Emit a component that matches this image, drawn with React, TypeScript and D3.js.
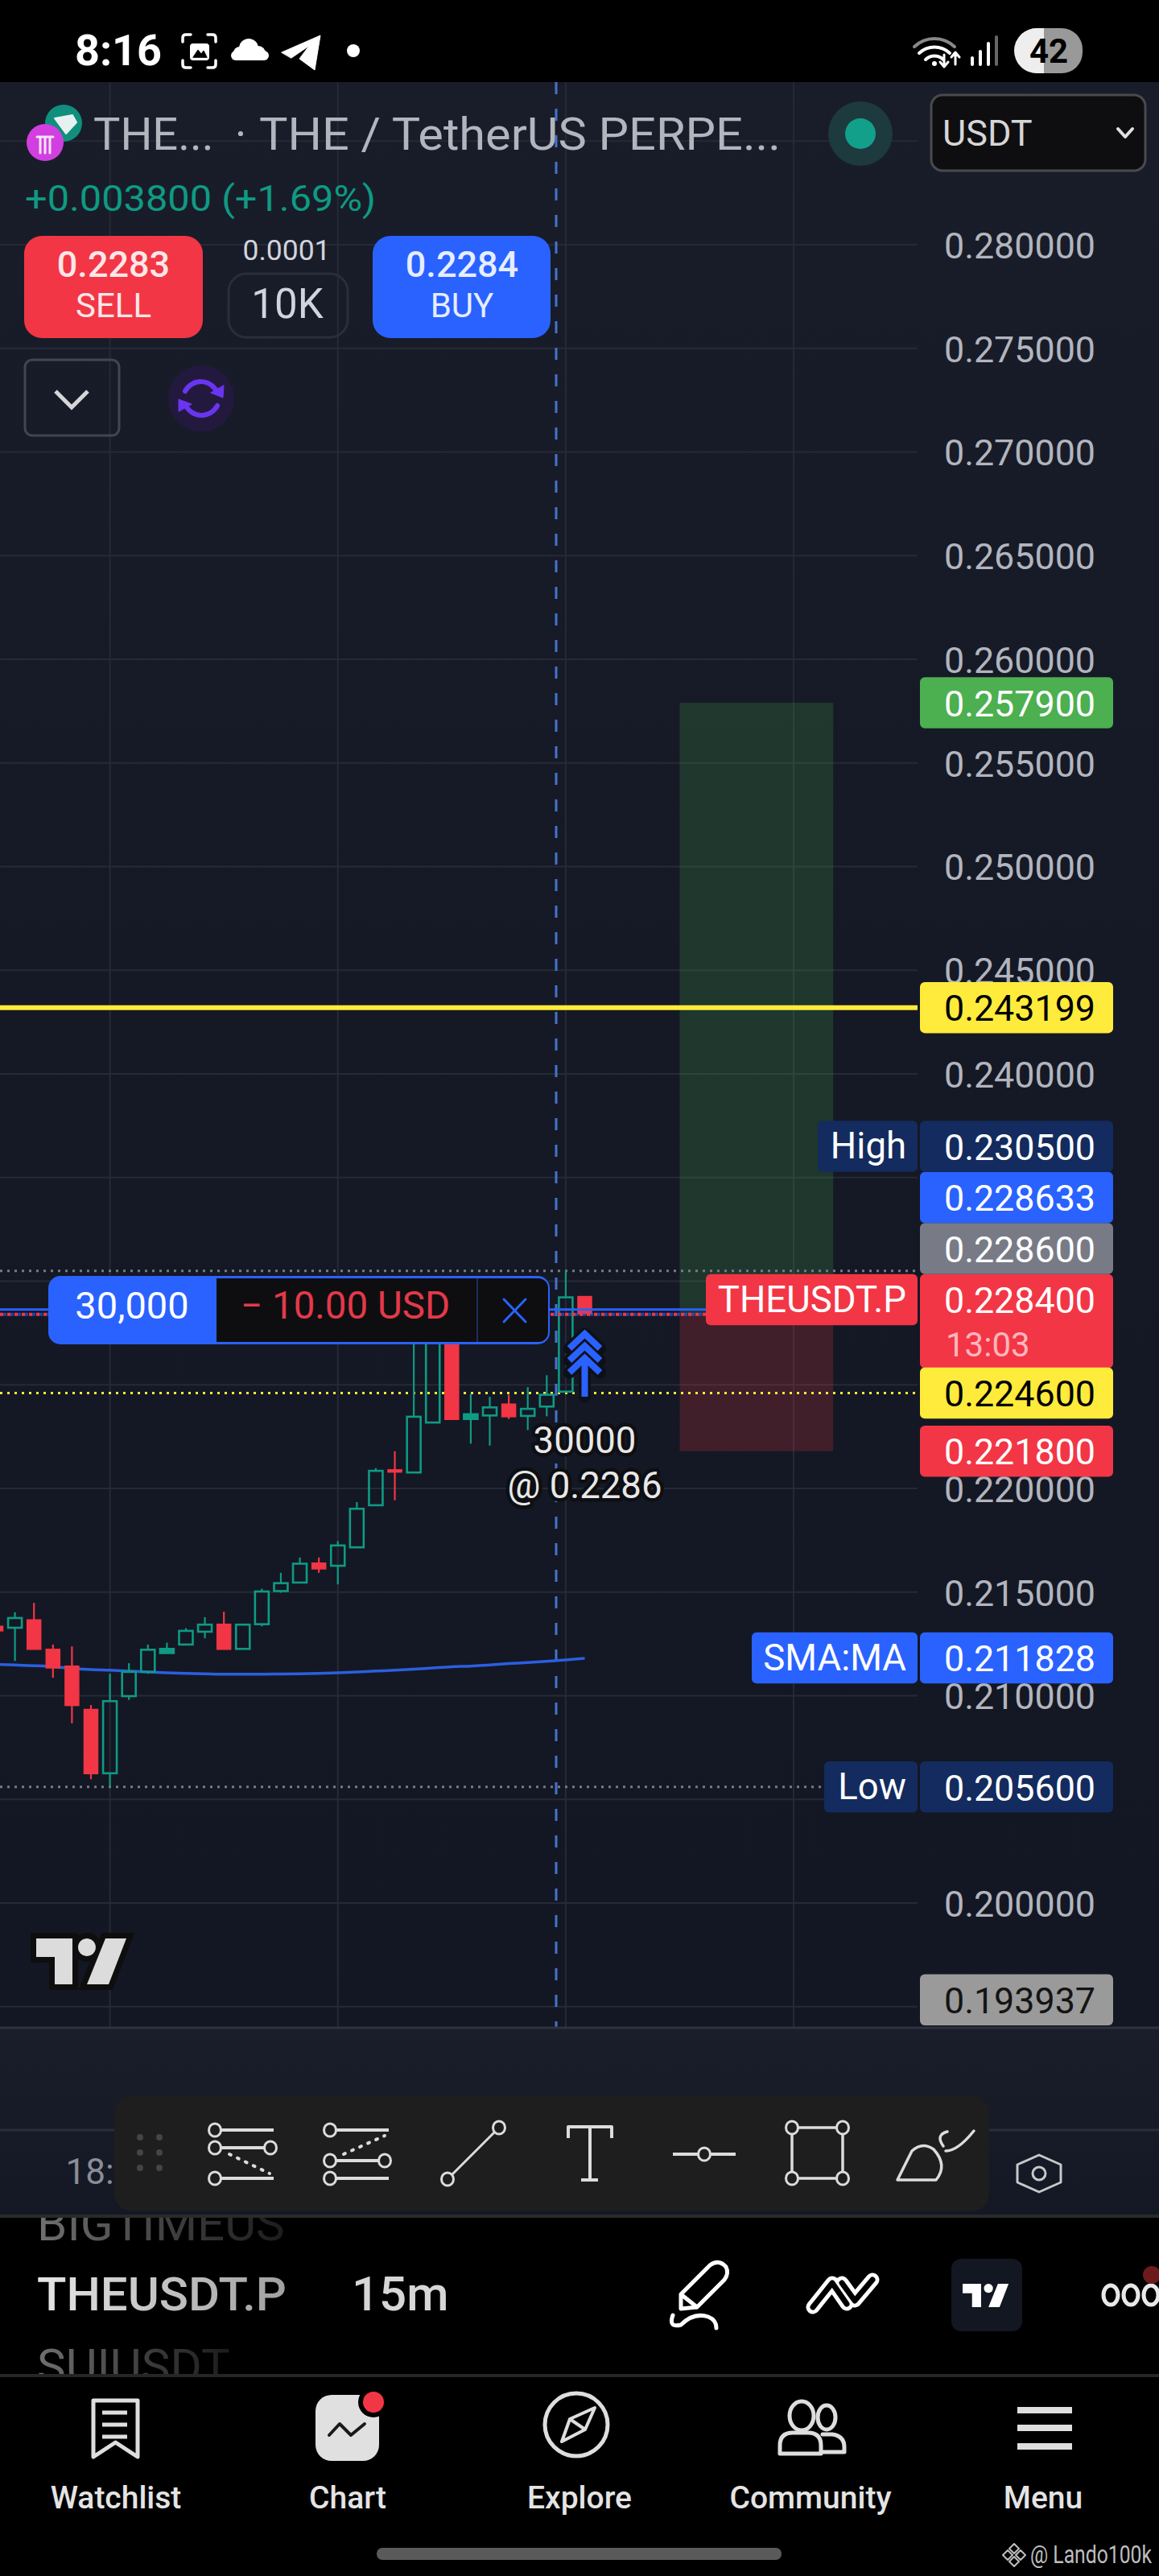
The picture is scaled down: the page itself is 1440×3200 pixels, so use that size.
import React, { useRef, useEffect } from "react";
import * as d3 from "d3";

// candle values (15m THEUSDT.P)
const candleIndex = d3.range(0, 32);
const opens = [0.21335, 0.21328, 0.21366, 0.21224, 0.21143, 0.20934, 0.20626, 0.20998, 0.21115, 0.21206, 0.21247, 0.21309, 0.21345, 0.21226, 0.21345, 0.21505, 0.21546, 0.2164, 0.21627, 0.21716, 0.21919, 0.2209, 0.22077, 0.22318, 0.2275, 0.22335, 0.22352, 0.22407, 0.2235, 0.22395, 0.22467, 0.22926];
const highs = [0.21335, 0.21403, 0.21448, 0.21247, 0.21238, 0.20955, 0.21106, 0.21157, 0.21247, 0.21256, 0.21326, 0.21379, 0.21405, 0.21343, 0.21516, 0.21593, 0.21667, 0.21667, 0.21746, 0.21934, 0.22098, 0.22179, 0.22791, 0.22979, 0.2275, 0.22456, 0.22442, 0.22452, 0.22489, 0.22546, 0.2305, 0.22926];
const lows = [0.21313, 0.21168, 0.21224, 0.21087, 0.20867, 0.20597, 0.2056, 0.2098, 0.21106, 0.21206, 0.21247, 0.21277, 0.21224, 0.21226, 0.21335, 0.21497, 0.21546, 0.21593, 0.21537, 0.21716, 0.21919, 0.21943, 0.22077, 0.22318, 0.22333, 0.22216, 0.22207, 0.22335, 0.22282, 0.22348, 0.22467, 0.22843];
const closes = [0.21313, 0.21375, 0.21224, 0.21134, 0.20953, 0.20624, 0.20974, 0.21115, 0.21222, 0.21226, 0.21313, 0.21343, 0.21224, 0.21343, 0.21503, 0.21543, 0.21637, 0.21612, 0.21725, 0.21902, 0.22085, 0.22079, 0.22346, 0.22828, 0.22333, 0.22358, 0.22391, 0.22346, 0.22384, 0.22452, 0.22922, 0.22843];
const smaValues = [0.21151, 0.21149, 0.21145, 0.2114, 0.21132, 0.21126, 0.21123, 0.21119, 0.21115, 0.21111, 0.21108, 0.21106, 0.21104, 0.21104, 0.21104, 0.21105, 0.21106, 0.21108, 0.21111, 0.21115, 0.21119, 0.21123, 0.21128, 0.21134, 0.2114, 0.21143, 0.21149, 0.21155, 0.2116, 0.21166, 0.21173, 0.21181];

const gridPrices = [0.195, 0.2, 0.205, 0.21, 0.215, 0.22, 0.225, 0.23, 0.235, 0.24, 0.245, 0.25, 0.255, 0.26, 0.265, 0.27, 0.275, 0.28, 0.285];
// ticks not fully hidden behind the price labels
const priceTicks = [0.2, 0.21, 0.215, 0.22, 0.24, 0.245, 0.25, 0.255, 0.26, 0.265, 0.27, 0.275, 0.28];
const timeGrid = [6, 18, 30, 42];
const timeLabels = ["18:"];

const entryPrice = 0.2284;
const targetPrice = 0.2579;
const stopPrice = 0.2218;
const hLinePrice = 0.243199;
const highPrice = 0.2305;
const lowPrice = 0.2056;
const yellowPrice = 0.2246;
const posLinePrice = 0.228633;
const smaLast = 0.211828;
const lastVisible = 0.193937;
const riskBoxIdx = [36, 44];
const crosshairX = 691;

const navLabels = ["Watchlist", "Chart", "Explore", "Community", "Menu"];
const navCenters = [144, 432, 720, 1007, 1296];

const UP = "#0f9a83";
const DOWN = "#f23645";
const BLUE = "#2962ff";
const NAVY = "#132b5e";
const YELLOW = "#ffeb3b";
const AXIS_TXT = "#b2b5be";
const PANE_R = 1140;
const FONT = "Roboto, sans-serif";

export default function App() {
  const svgRef = useRef<SVGSVGElement>(null);

  useEffect(() => {
    const svg = d3.select(svgRef.current);
    svg.selectAll("*").remove();

    const x = d3.scaleLinear().domain([0, 31]).range([-5, 726.5]);
    const y = d3.scaleLinear().domain([0.2, 0.28]).range([2364, 304]);

    const txt = (s: string, tx: number, ty: number, size: number, fill: string, anchor = "start", weight = 400) =>
      svg.append("text").attr("x", tx).attr("y", ty).attr("font-size", size).attr("fill", fill)
        .attr("text-anchor", anchor).attr("font-weight", weight).attr("font-family", FONT).text(s);
    const path = (d: string, stroke: string, sw = 3, fill = "none") =>
      svg.append("path").attr("d", d).attr("stroke", stroke).attr("stroke-width", sw).attr("fill", fill)
        .attr("stroke-linecap", "round").attr("stroke-linejoin", "round");
    const rect = (rx0: number, ry0: number, w: number, h: number, fill: string, r = 0) =>
      svg.append("rect").attr("x", rx0).attr("y", ry0).attr("width", w).attr("height", h).attr("fill", fill).attr("rx", r);
    const circ = (cx: number, cy: number, r: number, fill: string, stroke = "none", sw = 0) =>
      svg.append("circle").attr("cx", cx).attr("cy", cy).attr("r", r).attr("fill", fill).attr("stroke", stroke).attr("stroke-width", sw);

    // gradients and clips
    const defs = svg.append("defs");
    const grad = (id: string, stops: [number, string][], x2 = 0, y2 = 1) => {
      const g = defs.append("linearGradient").attr("id", id).attr("x1", 0).attr("y1", 0).attr("x2", x2).attr("y2", y2);
      stops.forEach(([o, c]) => g.append("stop").attr("offset", o).attr("stop-color", c));
    };
    grad("paneBg", [[0, "#191d2a"], [0.45, "#151925"], [1, "#131723"]]);
    grad("timeBg", [[0, "#1a1e2a"], [1, "#131824"]]);
    grad("fadeTxt", [[0, "#707070"], [0.62, "#383838"], [1, "#1c1c1c"]], 1, 0);
    grad("symTxt", [[0, "#e6e6e6"], [1, "#a0a0a0"]], 1, 0);
    defs.append("clipPath").attr("id", "pane").append("rect").attr("width", PANE_R).attr("height", 2417).attr("y", 102);
    defs.append("clipPath").attr("id", "rowClip").append("rect").attr("y", 2755).attr("width", 366).attr("height", 194);

    // page
    rect(0, 0, 1440, 3200, "#000");
    rect(0, 102, 1440, 2417, "url(#paneBg)");
    rect(0, 2519, 1440, 233, "url(#timeBg)");

    // grid
    const chart = svg.append("g").attr("clip-path", "url(#pane)");
    chart.selectAll(".hgrid").data(gridPrices).join("line")
      .attr("x1", 0).attr("x2", PANE_R).attr("y1", (d) => y(d)).attr("y2", (d) => y(d))
      .attr("stroke", "#262a36").attr("stroke-width", 2);
    chart.selectAll(".vgrid").data(timeGrid).join("line")
      .attr("x1", (d) => x(d)).attr("x2", (d) => x(d)).attr("y1", 102).attr("y2", 2519)
      .attr("stroke", "#262a36").attr("stroke-width", 2);

    // long position box
    chart.append("rect").attr("x", x(riskBoxIdx[0])).attr("width", x(riskBoxIdx[1]) - x(riskBoxIdx[0]) + 2)
      .attr("y", y(targetPrice)).attr("height", y(entryPrice) - y(targetPrice)).attr("fill", "#4caf50").attr("opacity", 0.2);
    chart.append("rect").attr("x", x(riskBoxIdx[0])).attr("width", x(riskBoxIdx[1]) - x(riskBoxIdx[0]) + 2)
      .attr("y", y(entryPrice)).attr("height", y(stopPrice) - y(entryPrice)).attr("fill", DOWN).attr("opacity", 0.2);

    // level lines
    const level = (p: number, color: string, sw: number, dash?: string) =>
      chart.append("line").attr("x1", 0).attr("x2", PANE_R).attr("y1", y(p)).attr("y2", y(p))
        .attr("stroke", color).attr("stroke-width", sw).attr("stroke-dasharray", dash || null);
    level(hLinePrice, YELLOW, 6);
    level(highPrice, "#787b86", 3, "3 6");
    level(lowPrice, "#787b86", 3, "3 6");
    level(yellowPrice, YELLOW, 3, "3 6");

    // crosshair
    chart.append("line").attr("x1", crosshairX).attr("x2", crosshairX).attr("y1", 102).attr("y2", 2519)
      .attr("stroke", "#4673c9").attr("stroke-width", 3).attr("stroke-dasharray", "15 18");

    // SMA
    const smaLine = d3.line<number>().x((d) => x(d)).y((d) => y(smaValues[d])).curve(d3.curveMonotoneX);
    chart.append("path").attr("d", smaLine(candleIndex)).attr("fill", "none").attr("stroke", "#2a5fe0").attr("stroke-width", 3.5);

    // candles
    const bw = 17;
    const g = chart.append("g");
    candleIndex.forEach((i) => {
      const up = closes[i] >= opens[i];
      const color = up ? UP : DOWN;
      const top = y(Math.max(opens[i], closes[i]));
      const bot = y(Math.min(opens[i], closes[i]));
      const cx = x(i);
      g.append("line").attr("x1", cx).attr("x2", cx).attr("y1", y(highs[i])).attr("y2", top).attr("stroke", color).attr("stroke-width", 2.2);
      g.append("line").attr("x1", cx).attr("x2", cx).attr("y1", bot).attr("y2", y(lows[i])).attr("stroke", color).attr("stroke-width", 2.2);
      g.append("rect").attr("x", cx - bw / 2).attr("width", bw).attr("y", top).attr("height", bot - top)
        .attr("fill", up ? (bot - top < 8 ? color : "none") : color)
        .attr("stroke", color).attr("stroke-width", up ? 2.6 : 1.5);
    });

    // position line
    level(posLinePrice, "#2962ff", 3);
    level(entryPrice, DOWN, 4, "4 5");
    chart.append("line").attr("x1", 4).attr("x2", PANE_R).attr("y1", y(entryPrice)).attr("y2", y(entryPrice))
      .attr("stroke", BLUE).attr("stroke-width", 4).attr("stroke-dasharray", "4 5").attr("opacity", 0.6);

    // trade marker
    const ax = x(31);
    const ay = [1655, 1670, 1685];
    const chevrons = ay.map((t) => `M${ax - 19} ${t + 20} L${ax} ${t + 2} L${ax + 19} ${t + 20}`).join(" ");
    const shaft = `M${ax} 1690 L${ax} 1735`;
    path(chevrons + " " + shaft, "#0e1018", 15);
    path(chevrons, BLUE, 8).attr("stroke-linecap", "butt").attr("stroke-linejoin", "miter");
    path(shaft, BLUE, 8).attr("stroke-linecap", "butt");
    const halo = (s: string, tx: number, ty: number) =>
      txt(s, tx, ty, 45.5, "#e8e8e8", "middle").attr("stroke", "#0e0f13").attr("stroke-width", 9)
        .attr("paint-order", "stroke").attr("stroke-linejoin", "round");
    halo("30000", ax, 1805);
    halo("@ 0.2286", ax, 1861);

    // price axis
    const axis = d3.axisRight(y).tickValues(priceTicks).tickFormat(d3.format(".6f")).tickSize(0).tickPadding(0);
    const axG = svg.append("g").attr("transform", "translate(1361,2)").call(axis);
    axG.select(".domain").remove();
    axG.selectAll("text").attr("text-anchor", "end").attr("fill", AXIS_TXT).attr("font-size", 44.8).attr("font-family", FONT);

    // price labels
    const LH = 63.5;
    const plabel = (p: string, top: number, fill: string, color = "#fff", h = LH) => {
      rect(1143, top, 240, h, fill, 6);
      txt(p, 1361, top + 48.5, 44.8, color, "end");
    };
    const sideLabel = (s: string, left: number, top: number, fill: string) => {
      rect(left, top, PANE_R - left, LH, fill, 6);
      txt(s, PANE_R - 14, top + 47, 45.5, "#fff", "end");
    };
    const curTop = y(entryPrice) - 50;
    plabel("0.228400", curTop, DOWN, "#fff", 117);
    txt("13:03", 1175, curTop + 102, 42, "#ffb6bd");
    sideLabel("THEUSDT.P", 877, curTop, DOWN);
    plabel("0.228600", curTop - LH, "#787b86");
    plabel("0.228633", curTop - 2 * LH, BLUE);
    plabel("0.230500", curTop - 3 * LH, NAVY);
    sideLabel("High", 1016, curTop - 3 * LH, NAVY);
    plabel("0.224600", y(yellowPrice) - LH / 2, YELLOW, "#000");
    plabel("0.221800", y(stopPrice) - LH / 2, DOWN);
    plabel("0.257900", y(targetPrice) - LH / 2, "#4caf50");
    plabel("0.243199", y(hLinePrice) - LH / 2, YELLOW, "#000");
    plabel("0.211828", y(smaLast) - LH / 2, BLUE);
    sideLabel("SMA:MA", 934, y(smaLast) - LH / 2, BLUE);
    plabel("0.205600", y(lowPrice) - LH / 2, NAVY);
    sideLabel("Low", 1024, y(lowPrice) - LH / 2, NAVY);
    plabel(lastVisible.toFixed(6), 2516 - LH, "#9a9a9a", "#141414");

    // order panel
    rect(60, 1585, 623, 85, BLUE, 15);
    rect(269, 1588, 412, 79, "#0e0e10", 12);
    rect(269, 1588, 30, 79, "#0e0e10");
    svg.append("line").attr("x1", 593).attr("x2", 593).attr("y1", 1588).attr("y2", 1667).attr("stroke", "#1b2f63").attr("stroke-width", 2);
    txt("30,000", 164, 1638, 47, "#fff", "middle");
    txt("− 10.00 USD", 299, 1638, 47.5, "#e4394a");
    path("M626 1614 L653 1642 M653 1614 L626 1642", BLUE, 3);

    // header
    circ(79, 153, 23, "#0f8f7c");
    path("M68 147 L90 143 L95 152 L82 166 Z", "#e6f2f0", 2, "#e6f2f0");
    circ(56, 177, 23, "#d13fe0");
    path("M46 170 H66 M50 170 V190 M56 170 V190 M62 170 V190", "#f5e3f8", 3);
    txt("THE...", 116, 186, 56, AXIS_TXT);
    txt("·", 299, 186, 56, AXIS_TXT, "middle");
    txt("THE / TetherUS PERPE...", 322, 186, 56, AXIS_TXT).attr("textLength", 648).attr("lengthAdjust", "spacingAndGlyphs");
    circ(1069, 166, 40, "#1d3a3e");
    circ(1069, 166, 19, "#13a08a");
    rect(1157, 118, 266, 94, "#0e0e10", 14).attr("stroke", "#4a4a4c").attr("stroke-width", 3);
    txt("USDT", 1171, 181, 45, "#d6d6d6");
    path("M1389 160 L1398 170 L1407 160", "#e0e0e0", 4);
    txt("+0.003800 (+1.69%)", 31, 262, 45, "#0f9a83").attr("textLength", 436).attr("lengthAdjust", "spacingAndGlyphs");

    rect(30, 293, 222, 127, DOWN, 22);
    txt("0.2283", 141, 344, 45, "#fbe7e9", "middle", 500);
    txt("SELL", 141, 394, 42, "#fbe7e9", "middle");
    rect(463, 293, 221, 127, BLUE, 22);
    txt("0.2284", 574, 344, 45, "#e6edff", "middle", 500);
    txt("BUY", 574, 394, 42, "#e6edff", "middle");
    txt("0.0001", 356, 323, 35.5, "#d1d4dc", "middle");
    rect(284, 340, 148, 79, "none", 22).attr("stroke", "#2a2e39").attr("stroke-width", 3);
    txt("10K", 357, 395, 51, "#d1d4dc", "middle");
    rect(31, 447, 117, 94, "none", 9).attr("stroke", "#434651").attr("stroke-width", 3);
    path("M69 486 L89 506 L109 486", "#d6d6d6", 5).attr("stroke-linecap", "butt").attr("stroke-linejoin", "miter");
    circ(250, 495, 41, "#23193f");
    path("M230 486 A22 22 0 0 1 270 488 M270 504 A22 22 0 0 1 230 502", "#6a35f0", 6);
    path("M262 488 L277 494 L278 479 Z M238 502 L222 496 L222 511 Z", "#6a35f0", 1, "#6a35f0");

    // status bar
    txt("8:16", 147, 81, 54, "#fff", "middle", 700);
    path("M227 52 V47 Q227 43 231 43 H237 M258 43 H264 Q268 43 268 47 V52 M268 75 V80 Q268 84 264 84 H258 M237 84 H231 Q227 84 227 80 V75", "#fff", 3.5);
    rect(236, 54, 24, 21, "#fff", 4);
    path("M240 71 L246 62 L250 67 L253 63 L257 71 Z", "#000", 1, "#000");
    rect(287, 63, 47, 12, "#fff", 6);
    circ(309, 60, 12, "#fff");
    circ(321, 66, 9, "#fff");
    circ(298, 66, 8, "#fff");
    path("M350 65 L398 44 L391 87 L372 73 L384 57 L362 72 Z", "#fff", 1, "#fff");
    circ(439, 63, 8, "#fff");
    path("M1136 58 A36 36 0 0 1 1186 58", "#888", 4);
    path("M1142 66 A28 28 0 0 1 1180 66", "#fff", 4);
    path("M1150 74 A16 16 0 0 1 1172 74", "#fff", 4);
    circ(1161, 79, 3, "#fff");
    path("M1173 68 V82 M1168 77 L1173 83 L1178 77 M1187 80 V66 M1182 71 L1187 65 L1192 71", "#fff", 3);
    [[1208, 12], [1218, 20], [1228, 30], [1238, 38]].forEach(([bx, bh], i) =>
      rect(bx - 2, 82 - bh, 4, bh, i === 3 ? "#666" : "#fff", 2));
    rect(1262, 35, 83, 56, "#999", 26);
    svg.append("path").attr("d", "M1288 35 H1297 V91 H1288 A28 28 0 0 1 1288 35 Z").attr("fill", "#eee");
    txt("42", 1303, 78, 42, "#000", "middle", 700);

    // tv watermark
    const tvLogo = (sx: number, dx: number, dy: number, fill: string, stroke?: string) => {
      const gl = svg.append("g").attr("transform", `translate(${dx},${dy}) scale(${sx})`);
      const logo = gl.append("path").attr("d", "M0 0 H45 V57 H23 V23 H0 Z M86 0 H112 L90 57 H63 Z M63 0 A11 11 0 1 1 62.9 0 Z")
        .attr("fill", fill);
      if (stroke) logo.attr("stroke", stroke).attr("stroke-width", 14).attr("paint-order", "stroke").attr("stroke-linejoin", "miter");
    };
    tvLogo(1, 45, 2408, "#dcdcdc", "#0e0e0e");

    // time pane
    svg.append("line").attr("x1", 0).attr("x2", 1440).attr("y1", 2519).attr("y2", 2519).attr("stroke", "#2f3340").attr("stroke-width", 3);
    svg.append("line").attr("x1", 0).attr("x2", 1440).attr("y1", 2646).attr("y2", 2646).attr("stroke", "#2a2e39").attr("stroke-width", 3);
    timeLabels.forEach((t) => txt(t, x(timeGrid[0]) - 55, 2713, 44, "#8a8d96"));
    path("M1291 2677 L1318 2689 L1318 2711 L1291 2723 L1264 2711 L1264 2689 Z", "#c8c8c8", 3);
    circ(1291, 2700, 8, "none", "#c8c8c8", 3);

    // drawing tools panel
    rect(142, 2603, 1087, 144, "#1e1e1e", 22);
    [174, 198].forEach((dx) => [2655, 2674, 2693].forEach((dy) => circ(dx, dy, 4, "#454545")));
    const IC = "#dcdcdc";
    const knob = (cx: number, cy: number) => svg.append("ellipse").attr("cx", cx).attr("cy", cy).attr("rx", 7.5).attr("ry", 8).attr("fill", "#1e1e1e").attr("stroke", IC).attr("stroke-width", 3);
    path("M267 2646 H340 M267 2668 H336 M267 2706 H340", IC, 4).attr("stroke-linecap", "butt");
    path("M285 2676 L335 2700", IC, 4).attr("stroke-dasharray", "2 9");
    knob(267, 2646); knob(267, 2668); knob(336, 2668); knob(267, 2706);
    path("M410 2646 H483 M410 2684 H478 M410 2706 H483", IC, 4).attr("stroke-linecap", "butt");
    path("M427 2676 L478 2653", IC, 4).attr("stroke-dasharray", "2 9");
    knob(410, 2646); knob(410, 2684); knob(478, 2684); knob(410, 2706);
    path("M556 2707 L620 2643", IC, 3);
    knob(556, 2707); knob(620, 2643);
    path("M706 2656 V2642 H760 V2656 M733 2642 V2708 M722 2708 H743", IC, 4).attr("stroke-linecap", "butt");
    path("M836 2676 H914", IC, 4).attr("stroke-linecap", "butt");
    knob(875, 2676);
    path("M984 2643 H1047 V2706 H984 Z", IC, 3.5);
    knob(984, 2643); knob(1047, 2643); knob(984, 2706); knob(1047, 2706);
    path("M1115 2708 L1133 2672 Q1146 2660 1160 2670 Q1178 2690 1163 2708 Z M1172 2666 Q1162 2652 1177 2648 M1175 2672 Q1190 2672 1210 2647", IC, 3.5);

    // symbol row
    rect(0, 2751, 1440, 4, "#2a2a2a");
    const row = svg.append("g").attr("clip-path", "url(#rowClip)");
    row.append("text").attr("x", 46).attr("y", 2783).attr("font-size", 60).attr("font-family", FONT).attr("fill", "url(#fadeTxt)").text("BIGTIMEUS");
    row.append("text").attr("x", 46).attr("y", 2960).attr("font-size", 60).attr("font-family", FONT).attr("fill", "url(#fadeTxt)").text("SUIUSDT");
    txt("THEUSDT.P", 46, 2870, 58, "url(#symTxt)", "start", 500).attr("textLength", 310).attr("lengthAdjust", "spacingAndGlyphs");
    txt("15m", 437, 2870, 60, "#d6d6d6", "start", 500);

    path("M846 2868 L846 2850 L882 2814 Q893 2806 902 2816 Q906 2824 900 2832 L866 2866 Z M846 2850 L866 2866", "#fff", 5);
    path("M836 2876 Q830 2892 846 2888 Q862 2872 880 2878 Q890 2882 890 2892", "#fff", 5);
    const shake = "M1010 2866 L1034 2836 L1052 2862 M1046 2836 L1062 2858 L1084 2832";
    path(shake, "#fff", 17);
    path(shake, "#000", 7);
    rect(1182, 2806, 88, 90, "#131722", 12);
    tvLogo(0.51, 1196, 2837, "#fff");
    [1380, 1405, 1430].forEach((cx) => svg.append("ellipse").attr("cx", cx).attr("cy", 2851).attr("rx", 9).attr("ry", 12).attr("fill", "none").attr("stroke", "#e8e8e8").attr("stroke-width", 5));
    circ(1431, 2826, 11, "#6d1a1f");

    // bottom nav
    rect(0, 2949, 1440, 4, "#262626");
    const NAV = "#dedede";
    path("M116 2982 H171 V3052 L143.5 3034 L116 3052 Z", NAV, 5).attr("stroke-linecap", "butt");
    path("M127 2997 H158 M127 3012 H158 M127 3027 H158", NAV, 5).attr("stroke-linecap", "butt");
    rect(392, 2975, 79, 82, "#e0e0e0", 20);
    circ(464, 2984, 19, "#000");
    circ(464, 2984, 13, DOWN);
    path("M409 3025 L422 3011 L436 3025 L453 3011", "#1a1a1a", 4);
    circ(716, 3012, 39, "none", NAV, 5);
    path("M739 2991 L727 3018 L698 3033 L708 3005 Z M708 3005 L727 3018", NAV, 4);
    svg.append("ellipse").attr("cx", 996).attr("cy", 3001).attr("rx", 15).attr("ry", 18).attr("fill", "none").attr("stroke", NAV).attr("stroke-width", 5);
    svg.append("ellipse").attr("cx", 1027).attr("cy", 3003).attr("rx", 11).attr("ry", 15).attr("fill", "none").attr("stroke", NAV).attr("stroke-width", 5);
    path("M969 3048 V3038 Q969 3022 985 3022 H1004 Q1020 3022 1020 3038 V3048 Z", NAV, 5);
    path("M1022 3024 H1034 Q1049 3026 1049 3040 V3046 H1020", NAV, 5);
    [2994, 3016, 3039].forEach((by) => rect(1264, by - 4, 68, 8, NAV));
    navLabels.forEach((l, i) => txt(l, navCenters[i], 3116, 39, "#e4e4e4", "middle", 500));
    rect(468, 3165, 503, 15, "#5a5a5a", 7);

    // watermark
    path("M1260 3160 L1266 3166 L1260 3172 L1254 3166 Z M1260 3176 L1266 3182 L1260 3188 L1254 3182 Z M1252 3168 L1258 3174 L1252 3180 L1246 3174 Z M1268 3168 L1274 3174 L1268 3180 L1262 3174 Z", "#bdbdbd", 2);
    txt("@ Lando100k", 1280, 3184, 32, "#bdbdbd").attr("textLength", 151).attr("lengthAdjust", "spacingAndGlyphs");
  }, []);

  return (
    <svg
      ref={svgRef}
      width={1440}
      height={3200}
      style={{ position: "absolute", left: 0, top: 0, display: "block" }}
    />
  );
}
